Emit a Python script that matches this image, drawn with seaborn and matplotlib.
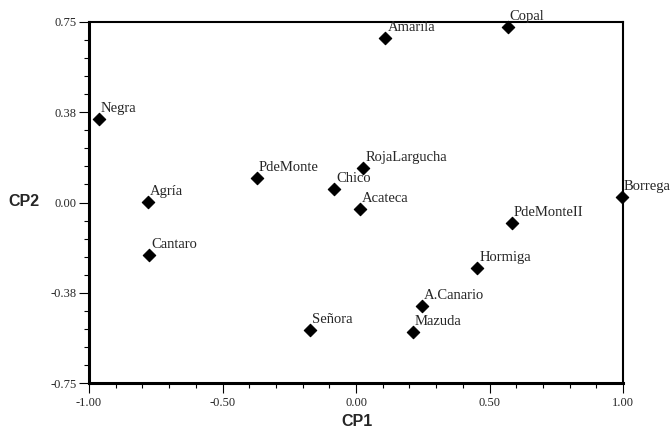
import matplotlib
matplotlib.use("Agg")
import matplotlib.pyplot as plt
import seaborn as sns
import pandas as pd
import numpy as np
from matplotlib.ticker import FixedLocator, MultipleLocator

names = ["Negra", "Agría", "PdeMonte", "Chico", "RojaLargucha", "Acateca",
         "Amarila", "Copal", "Borrega", "PdeMonteII", "Hormiga", "A.Canario",
         "Mazuda", "Señora", "Cantaro"]
cp1 = [-0.963, -0.780, -0.372, -0.082, 0.027, 0.016,
       0.110, 0.568, 0.995, 0.583, 0.455, 0.247,
       0.213, -0.172, -0.774]
cp2 = [0.347, 0.004, 0.103, 0.056, 0.145, -0.027,
       0.682, 0.730, 0.024, -0.086, -0.271, -0.429,
       -0.537, -0.531, -0.217]

xticks = [-1.0, -0.5, 0.0, 0.5, 1.0]
xticklabels = ["-1.00", "-0.50", "0.00", "0.50", "1.00"]
yticks = [-0.75, -0.375, 0.0, 0.375, 0.75]
yticklabels = ["-0.75", "-0.38", "0.00", "0.38", "0.75"]

df = pd.DataFrame({"CP1": cp1, "CP2": cp2, "name": names})

sns.set_style("white")
fig = plt.figure(figsize=(6.72, 4.33), dpi=100)
ax = fig.add_axes([89/672, 1-383/433, (623-89)/672, (383-22)/433])

sns.scatterplot(data=df, x="CP1", y="CP2", marker="D", s=40, color="black",
                edgecolor="black", linewidth=0.8, ax=ax, zorder=3, clip_on=False)

for n, x, y in zip(df["name"], df["CP1"], df["CP2"]):
    ax.annotate(n, (x, y), xytext=(1.5, 5), textcoords="offset points",
                ha="left", va="baseline", family="Liberation Serif", fontsize=10.5,
                annotation_clip=False)

ax.set_xlim(-1, 1)
ax.set_ylim(-0.75, 0.75)
ax.xaxis.set_major_locator(FixedLocator(xticks))
ax.set_xticklabels(xticklabels, family="Liberation Serif", fontsize=9)
ax.yaxis.set_major_locator(FixedLocator(yticks))
ax.set_yticklabels(yticklabels, family="Liberation Serif", fontsize=9)
ax.xaxis.set_minor_locator(MultipleLocator(0.1))
ax.yaxis.set_minor_locator(MultipleLocator(0.075))
ax.tick_params(which="major", direction="out", length=7, width=0.8, color="black",
               bottom=True, left=True, top=False, right=False)
ax.tick_params(axis="x", which="major", pad=3)
ax.tick_params(axis="y", which="major", pad=2)
ax.tick_params(which="minor", direction="out", length=3.5, width=0.8, color="black",
               bottom=True, left=True, top=False, right=False)

for side in ["left", "bottom"]:
    ax.spines[side].set_linewidth(2.2)
    ax.spines[side].set_color("black")
for side in ["top", "right"]:
    ax.spines[side].set_linewidth(1.5)
    ax.spines[side].set_color("black")
    ax.spines[side].set_visible(True)

ax.set_xlabel("")
ax.set_ylabel("")
fig.text(357/672, 1-422/433, "CP1", ha="center", va="center",
         family="Liberation Sans", fontweight="bold", fontsize=11.5)
fig.text(24/672, 1-201/433, "CP2", ha="center", va="center",
         family="Liberation Sans", fontweight="bold", fontsize=11.5)

fig.savefig("out.png", dpi=100)
